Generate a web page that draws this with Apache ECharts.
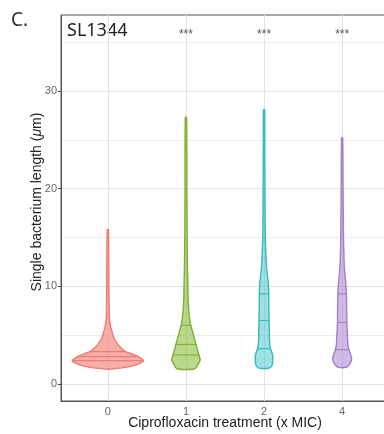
<!DOCTYPE html>
<html>
<head>
<meta charset="utf-8">
<script src="https://cdn.jsdelivr.net/npm/echarts@6/dist/echarts.min.js"></script>
<title>SL1344 violin</title>
</head>
<body style="margin:0">
<div id="container" style="width:384px;height:434px;"></div>
<script>
// categories on the x axis (x MIC) and significance marks above them
var groups = ['0', '1', '2', '4'];
var stars = ['', '***', '***', '***'];
var yTicks = [0, 10, 20, 30];

// violin outlines: [length (um), half width in x units]
var profile0 = [[1.5, 0.006], [1.7, 0.23], [1.95, 0.36], [2.2, 0.435], [2.4, 0.455], [2.7, 0.41], [3.0, 0.333],
  [3.3, 0.23], [3.7, 0.166], [4.2, 0.115], [4.7, 0.077], [5.2, 0.058], [6.0, 0.032], [7.0, 0.019], [10.0, 0.014], [15.8, 0.008]];
var profile1 = [[1.5, 0.09], [1.65, 0.13], [1.95, 0.15], [2.46, 0.182], [2.97, 0.166], [3.5, 0.147], [4.07, 0.128],
  [5.0, 0.096], [6.05, 0.061], [6.56, 0.049], [7.5, 0.036], [8.6, 0.028], [10.3, 0.024], [12.0, 0.019], [15.0, 0.015], [20.0, 0.012], [27.3, 0.008]];
var profile2 = [[1.6, 0.06], [1.85, 0.1], [2.2, 0.11], [2.8, 0.113], [3.2, 0.102], [3.6, 0.083], [4.0, 0.074], [4.5, 0.07],
  [5.5, 0.067], [6.5, 0.064], [8.0, 0.061], [9.2, 0.061], [10.3, 0.054], [11.2, 0.042], [12.0, 0.032], [13.5, 0.023], [15.5, 0.015], [20.0, 0.012], [25.0, 0.009], [28.1, 0.007]];
var profile3 = [[1.7, 0.051], [1.9, 0.083], [2.2, 0.109], [2.6, 0.122], [3.0, 0.109], [3.5, 0.087], [4.0, 0.074], [4.5, 0.07],
  [5.5, 0.064], [6.3, 0.06], [7.6, 0.058], [9.2, 0.055], [10.3, 0.046], [12.0, 0.028], [14.0, 0.02], [15.4, 0.017], [20.0, 0.012], [25.2, 0.007]];

// 25%, 50%, 75% quantile lines
var quart0 = [2.39, 2.80, 3.31];
var quart1 = [2.97, 4.05, 6.0];
var quart2 = [3.6, 6.5, 9.23];
var quart3 = [3.5, 6.3, 9.23];

var profiles = [profile0, profile1, profile2, profile3];
var quartiles = [quart0, quart1, quart2, quart3];
var strokes = ['#EE7C74', '#7DAF36', '#36B9C0', '#A47FC4'];
var fills = ['rgba(244,140,132,0.7)', 'rgba(140,190,60,0.6)', 'rgba(60,195,200,0.5)', 'rgba(170,130,210,0.55)'];

function halfWidthAt(prof, v) {
    for (var k = 1; k < prof.length; k++) {
        if (v <= prof[k][0]) {
            var a = prof[k - 1], b = prof[k];
            var t = (v - a[0]) / (b[0] - a[0]);
            return a[1] + t * (b[1] - a[1]);
        }
    }
    return 0;
}

function renderViolin(params, api) {
    var i = params.dataIndex;
    var x = api.value(0);
    var prof = profiles[i];
    var right = [], left = [];
    prof.forEach(function (p) {
        right.push(api.coord([x + p[1], p[0]]));
        left.unshift(api.coord([x - p[1], p[0]]));
    });
    var children = [{
        type: 'polygon',
        shape: { points: right.concat(left), smooth: 0.3 },
        style: { fill: fills[i], stroke: strokes[i], lineWidth: 1.4 }
    }];
    quartiles[i].forEach(function (q) {
        var w = halfWidthAt(prof, q);
        var p1 = api.coord([x - w, q]), p2 = api.coord([x + w, q]);
        children.push({
            type: 'line',
            shape: { x1: p1[0], y1: p1[1], x2: p2[0], y2: p2[1] },
            style: { stroke: strokes[i], lineWidth: 1.1 }
        });
    });
    if (stars[i]) {
        var top = api.coord([x, 0]);
        children.push({
            type: 'text',
            style: {
                text: stars[i], x: top[0], y: params.coordSys.y + 20,
                align: 'center', verticalAlign: 'middle',
                fill: '#555', font: '12px "Liberation Sans"'
            }
        });
    }
    return { type: 'group', children: children };
}

var myChart = echarts.init(document.getElementById('container'));

var option = {
    animation: false,
    textStyle: { fontFamily: 'Liberation Sans' },
    graphic: [
        { type: 'text', left: 11, top: 11, style: { text: 'C.', font: '19px "Noto Sans"', fill: '#333' } },
        { type: 'text', left: 67, top: 22, style: { text: 'SL1344', font: '18px "Noto Sans"', fill: '#222' } }
    ],
    grid: {
        left: 61, right: -5, top: 15, bottom: 33,
        outerBoundsMode: 'none',
        show: true, borderColor: '#555', borderWidth: 1
    },
    xAxis: {
        type: 'value',
        min: 0.4,
        max: 4.6,
        name: 'Ciprofloxacin treatment (x MIC)',
        nameLocation: 'middle',
        nameGap: 15,
        nameMoveOverlap: false,
        nameTextStyle: { fontSize: 14, color: '#222' },
        axisLine: { show: true, onZero: false, lineStyle: { color: '#555' } },
        axisTick: { show: false, customValues: [1, 2, 3, 4] },
        axisLabel: {
            customValues: [1, 2, 3, 4],
            color: '#666', fontSize: 11, margin: 5,
            formatter: function (v) { return groups[Math.round(v) - 1]; }
        },
        splitLine: { show: true, lineStyle: { color: '#E3E3E3', width: 1 } }
    },
    yAxis: {
        type: 'value',
        min: -1.75,
        max: 37.8,
        name: 'Single bacterium length ({i|μ}m)',
        nameLocation: 'middle',
        nameGap: 17,
        nameMoveOverlap: false,
        nameTextStyle: {
            fontSize: 14, color: '#222', padding: [0, 0, 0, 12],
            rich: { i: { fontSize: 14, fontStyle: 'italic', color: '#222' } }
        },
        axisLine: { show: true, onZero: false, lineStyle: { color: '#555' } },
        axisTick: { show: true, length: 3, customValues: yTicks, lineStyle: { color: '#444' } },
        axisLabel: { customValues: yTicks, color: '#666', fontSize: 11, margin: 4 },
        splitLine: { show: true, lineStyle: { color: '#E3E3E3', width: 1 } },
        minorTick: { show: false, splitNumber: 2 },
        minorSplitLine: { show: true, lineStyle: { color: '#EDEDED', width: 1 } }
    },
    series: [{
        type: 'custom',
        renderItem: renderViolin,
        data: groups.map(function (g, i) { return [i + 1, quartiles[i][1]]; }),
        z: 5
    }]
};

myChart.setOption(option);
</script>
</body>
</html>
